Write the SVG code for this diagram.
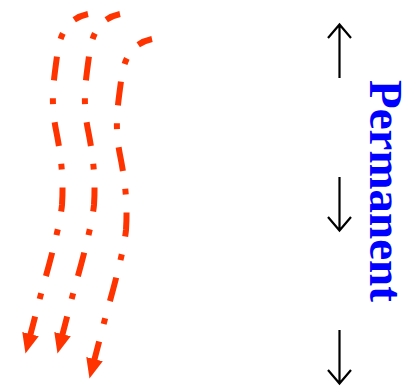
<svg xmlns="http://www.w3.org/2000/svg" width="403" height="389" viewBox="0 0 403 389">
<style>
.flow{fill:none;stroke:#FF3300;stroke-width:6;stroke-dasharray:24 18 6 18;stroke-dashoffset:9;marker-end:url(#head)}
.blk{fill:none;stroke:#000;stroke-width:2.2}
.lbl{font-family:"Liberation Serif",serif;font-weight:bold;font-size:47px;fill:#0000FF}
</style>
<defs>
<marker id="head" markerUnits="userSpaceOnUse" markerWidth="20" markerHeight="18" refX="6" refY="8.5" orient="auto">
<path d="M0,0 L20,8.5 L0,17 z" fill="#FF3300"/>
</marker>
<path id="curve" d="M88,14 C70,18 60,30 57,56 C54,80 50,100 56,130 C60,150 64,175 62,205 C60,225 50,262 42,290 L29,340"/>
</defs>
<g id="connectors">
<use href="#curve" class="flow"/>
<use href="#curve" class="flow" transform="translate(32,0)"/>
<use href="#curve" class="flow" transform="translate(64,25)"/>
</g>
<g id="arrow-up">
<path class="blk" d="M339.5,78 V25 M328,38 L339.5,24.5 L351,38"/>
</g>
<g id="arrow-down-1">
<path class="blk" d="M339.5,177 V230 M328,217 L339.5,230.5 L351,217"/>
</g>
<g id="arrow-down-2">
<path class="blk" d="M339.5,330 V383 M328,370 L339.5,383.5 L351,370"/>
</g>
<g id="label">
<text class="lbl" transform="translate(370,80) rotate(90)" x="0" y="0">Permanent</text>
</g>
</svg>
